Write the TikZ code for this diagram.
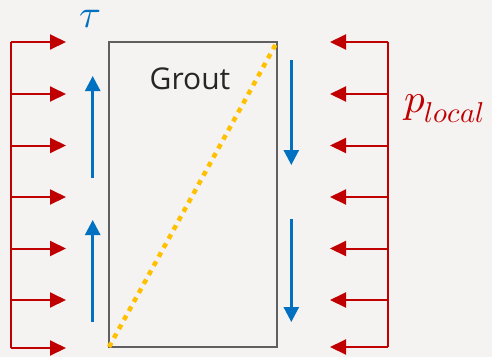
\documentclass[tikz,border=0pt]{standalone}
\usepackage{fontspec}
\usepackage{unicode-math}
\setmathfont{Latin Modern Math}
\newfontfamily\groutfont{Open Sans}
\usetikzlibrary{arrows.meta}
\definecolor{bgc}{HTML}{F5F3F1}
\definecolor{redc}{HTML}{C00000}
\definecolor{bluec}{HTML}{0070C0}
\definecolor{orangec}{HTML}{FFC000}
\definecolor{boxc}{HTML}{5F5F5F}
\definecolor{textc}{HTML}{262626}
\tikzset{
  pressure/.style={draw=redc, line width=2pt, -{Triangle[length=16pt,width=15pt]}},
  rail/.style={draw=redc, line width=2pt},
  shear/.style={draw=bluec, line width=2.6pt, -{Triangle[length=15pt,width=15pt]}},
  groutbox/.style={draw=boxc, line width=2.6pt},
  diag/.style={draw=orangec, line width=4.5pt, dash pattern=on 5pt off 5.3pt}
}
\begin{document}
\begin{tikzpicture}[x=1pt,y=-1pt]
\fill[bgc] (0,0) rectangle (492,357);
\useasboundingbox (0,0) rectangle (492,357);
% grout box
\coordinate (bl) at (109,347);
\coordinate (tr) at (277,42);
\draw[groutbox] (bl) rectangle (tr);
\draw[diag] (bl) -- (tr);
\node[font=\groutfont\fontsize{30}{35}\selectfont, text=textc, anchor=base] (grout) at (190,89) {Grout};
% left pressure
\coordinate (lt) at (11,42);
\coordinate (lb) at (11,348);
\draw[rail] (lt) -- (lb);
\foreach \y in {42,94,145.5,197,248.5,300,348}{
  \coordinate (ls) at (11,\y);
  \coordinate (le) at (66,\y);
  \draw[pressure] (ls) -- (le);
}
% right pressure
\coordinate (rt) at (388,42);
\coordinate (rb) at (388,347);
\draw[rail] (rt) -- (rb);
\foreach \y in {42,94,145.5,197,248.5,300,347}{
  \coordinate (rs) at (388,\y);
  \coordinate (re) at (330,\y);
  \draw[pressure] (rs) -- (re);
}
% shear arrows
\coordinate (s1a) at (92.7,178);
\coordinate (s1b) at (92.7,76);
\coordinate (s2a) at (92.7,322);
\coordinate (s2b) at (92.7,220);
\coordinate (s3a) at (291.3,60);
\coordinate (s3b) at (291.3,165);
\coordinate (s4a) at (291.3,219);
\coordinate (s4b) at (291.3,322);
\draw[shear] (s1a) -- (s1b);
\draw[shear] (s2a) -- (s2b);
\draw[shear] (s3a) -- (s3b);
\draw[shear] (s4a) -- (s4b);
% labels
\node[text=bluec, inner sep=0pt, font=\fontsize{40}{46}\selectfont, anchor=base] (tau) at (90.5,27) {$\tau$};
\node[text=redc, font=\fontsize{41}{48}\selectfont, anchor=base west, inner sep=0pt] (plocal) at (404,112) {$p_{local}$};
\end{tikzpicture}
\end{document}
